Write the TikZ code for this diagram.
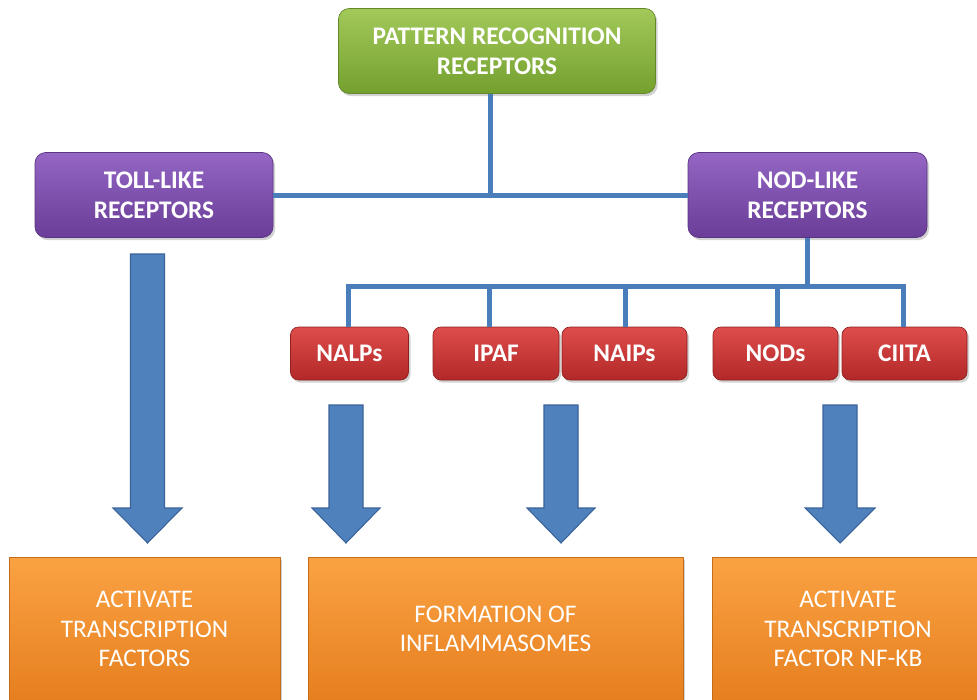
\documentclass[tikz,border=0pt]{standalone}
\usepackage{fontspec}
\setmainfont{Carlito}
\usetikzlibrary{shadows}
\definecolor{lineblue}{HTML}{4A7EBB}
\definecolor{arrfill}{HTML}{4F81BD}
\definecolor{arredge}{HTML}{3A639A}
\definecolor{gtop}{HTML}{A2C95A}
\definecolor{gbot}{HTML}{74A02E}
\definecolor{ptop}{HTML}{9566C4}
\definecolor{pbot}{HTML}{693D98}
\definecolor{rtop}{HTML}{DE4D4B}
\definecolor{rbot}{HTML}{B22828}
\definecolor{otop}{HTML}{FAA243}
\definecolor{obot}{HTML}{E67F1F}
\tikzset{
  basebox/.style={rectangle, align=center, text=white, inner sep=0pt,
    drop shadow={opacity=0.35, shadow xshift=1.5pt, shadow yshift=-2pt}},
  greenbox/.style={basebox, rounded corners=8pt, draw=gbot!85!black, line width=0.5pt,
    top color=gtop, bottom color=gbot, font=\fontsize{19}{22.5}\selectfont\bfseries},
  purplebox/.style={basebox, rounded corners=8pt, draw=pbot!85!black, line width=0.5pt,
    top color=ptop, bottom color=pbot, font=\fontsize{19}{22.5}\selectfont\bfseries},
  redbox/.style={basebox, rounded corners=6pt, draw=rbot!80!black, line width=0.5pt,
    top color=rtop, bottom color=rbot, font=\fontsize{19}{22}\selectfont\bfseries},
  orangebox/.style={basebox, draw=obot!85!black, line width=0.5pt,
    top color=otop, bottom color=obot, font=\fontsize{19}{22}\selectfont},
  conn/.style={draw=lineblue, line width=3.75pt},
  blockarrow/.style={fill=arrfill, draw=arredge, line width=0.8pt, line join=miter}
}
\newcommand\blockarr[3]{%
  \draw[blockarrow] (#1-17,#2) -- (#1+17,#2) -- (#1+17,508) -- (#1+#3,508)
    -- (#1,543) -- (#1-#3,508) -- (#1-17,508) -- cycle;}
\begin{document}
\begin{tikzpicture}[x=0.75pt,y=-0.75pt]
\useasboundingbox (0,0) rectangle (977,699);
\clip (0,0) rectangle (977,699);
\fill[white] (0,0) rectangle (977,699);

% nodes
\node[greenbox, minimum width={317*0.75pt}, minimum height={85*0.75pt}] (prr) at (497,51)
  {PATTERN RECOGNITION\\RECEPTORS};
\node[purplebox, minimum width={238*0.75pt}, minimum height={85*0.75pt}] (toll) at (154,195)
  {TOLL-LIKE\\RECEPTORS};
\node[purplebox, minimum width={239*0.75pt}, minimum height={85*0.75pt}] (nod) at (807.5,195)
  {NOD-LIKE\\RECEPTORS};

\node[redbox, minimum width={118*0.75pt}, minimum height={53*0.75pt}] (nalps) at (349.5,353.5) {NALPs};
\node[redbox, minimum width={126*0.75pt}, minimum height={53*0.75pt}] (ipaf) at (496,353.5) {IPAF};
\node[redbox, minimum width={125*0.75pt}, minimum height={53*0.75pt}] (naips) at (624.5,353.5) {NAIPs};
\node[redbox, minimum width={125*0.75pt}, minimum height={53*0.75pt}] (nods) at (775.5,353.5) {NODs};
\node[redbox, minimum width={125*0.75pt}, minimum height={53*0.75pt}] (ciita) at (904.5,353.5) {CIITA};

\node[orangebox, minimum width={271*0.75pt}, minimum height={144*0.75pt}] (act1) at (144.5,629)
  {ACTIVATE\\TRANSCRIPTION\\FACTORS};
\node[orangebox, minimum width={375*0.75pt}, minimum height={144*0.75pt}] (infl) at (495.5,629)
  {FORMATION OF\\INFLAMMASOMES};
\node[orangebox, minimum width={272*0.75pt}, minimum height={144*0.75pt}] (act2) at (848,629)
  {ACTIVATE\\TRANSCRIPTION\\FACTOR NF-KB};

% connectors
\coordinate (j1) at (490,196);
\draw[conn] (j1 |- prr.south) -- (j1);
\draw[conn] (toll.east) -- (nod.west);

\coordinate (d1) at (348,286);
\coordinate (d2) at (489,286);
\coordinate (d3) at (625,286);
\coordinate (d4) at (777,286);
\coordinate (d5) at (903,286);
\draw[conn] (nod.south) -- (nod.south |- d1);
\draw[conn] ([xshift=-1.875pt]d1) -- ([xshift=1.875pt]d5);
\draw[conn] (d1) -- (d1 |- nalps.north);
\draw[conn] (d2) -- (d2 |- ipaf.north);
\draw[conn] (d3) -- (d3 |- naips.north);
\draw[conn] (d4) -- (d4 |- nods.north);
\draw[conn] (d5) -- (d5 |- ciita.north);

% block arrows
\blockarr{147.5}{254}{34.5}
\blockarr{346}{405}{34}
\blockarr{561}{405}{34}
\blockarr{840}{405}{35}
\end{tikzpicture}
\end{document}
